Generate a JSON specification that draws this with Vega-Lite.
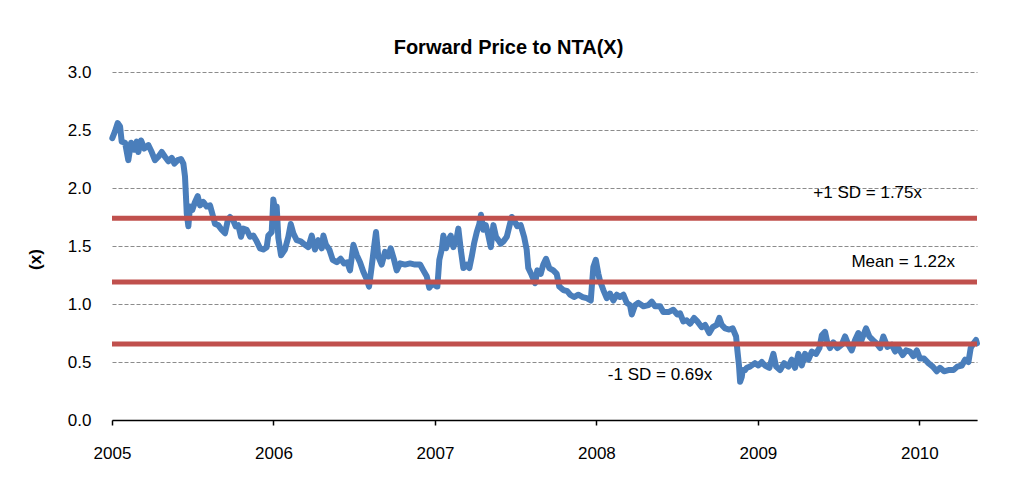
{
  "$schema": "https://vega.github.io/schema/vega-lite/v6.json",
  "width": 865,
  "height": 348,
  "autosize": "none",
  "padding": {"left": 112, "top": 72, "right": 38, "bottom": 68},
  "background": "white",
  "title": {
    "text": "Forward Price to NTA(X)",
    "font": "Liberation Sans",
    "fontSize": 20,
    "fontWeight": "bold",
    "color": "black",
    "anchor": "middle",
    "frame": "group",
    "baseline": "alphabetic",
    "dx": -36,
    "offset": -11
  },
  "config": {
    "view": {"stroke": null},
    "font": "Liberation Sans"
  },
  "datasets": {
    "series": [
      {"t": 2005.002, "v": 2.43}, {"t": 2005.019, "v": 2.49}, {"t": 2005.035, "v": 2.56}, {"t": 2005.050, "v": 2.53},
      {"t": 2005.060, "v": 2.40}, {"t": 2005.081, "v": 2.39}, {"t": 2005.101, "v": 2.24}, {"t": 2005.118, "v": 2.39},
      {"t": 2005.138, "v": 2.33}, {"t": 2005.153, "v": 2.40}, {"t": 2005.163, "v": 2.31}, {"t": 2005.180, "v": 2.41},
      {"t": 2005.200, "v": 2.34}, {"t": 2005.225, "v": 2.37}, {"t": 2005.246, "v": 2.31}, {"t": 2005.266, "v": 2.24},
      {"t": 2005.287, "v": 2.27}, {"t": 2005.308, "v": 2.31}, {"t": 2005.328, "v": 2.27}, {"t": 2005.349, "v": 2.23},
      {"t": 2005.370, "v": 2.26}, {"t": 2005.386, "v": 2.21}, {"t": 2005.407, "v": 2.24}, {"t": 2005.427, "v": 2.25},
      {"t": 2005.442, "v": 2.21}, {"t": 2005.452, "v": 2.10}, {"t": 2005.458, "v": 1.93}, {"t": 2005.463, "v": 1.78},
      {"t": 2005.473, "v": 1.67}, {"t": 2005.483, "v": 1.84}, {"t": 2005.497, "v": 1.81}, {"t": 2005.514, "v": 1.88},
      {"t": 2005.531, "v": 1.93}, {"t": 2005.545, "v": 1.85}, {"t": 2005.565, "v": 1.88}, {"t": 2005.587, "v": 1.84},
      {"t": 2005.607, "v": 1.85}, {"t": 2005.621, "v": 1.78}, {"t": 2005.638, "v": 1.69}, {"t": 2005.658, "v": 1.68},
      {"t": 2005.679, "v": 1.64}, {"t": 2005.700, "v": 1.61}, {"t": 2005.717, "v": 1.72}, {"t": 2005.731, "v": 1.75},
      {"t": 2005.751, "v": 1.72}, {"t": 2005.766, "v": 1.67}, {"t": 2005.782, "v": 1.68}, {"t": 2005.799, "v": 1.58},
      {"t": 2005.813, "v": 1.65}, {"t": 2005.834, "v": 1.64}, {"t": 2005.855, "v": 1.58}, {"t": 2005.875, "v": 1.59},
      {"t": 2005.896, "v": 1.54}, {"t": 2005.917, "v": 1.48}, {"t": 2005.937, "v": 1.47}, {"t": 2005.958, "v": 1.49},
      {"t": 2005.968, "v": 1.59}, {"t": 2005.989, "v": 1.62}, {"t": 2005.999, "v": 1.90}, {"t": 2006.010, "v": 1.81},
      {"t": 2006.020, "v": 1.84}, {"t": 2006.030, "v": 1.57}, {"t": 2006.047, "v": 1.42}, {"t": 2006.071, "v": 1.47},
      {"t": 2006.092, "v": 1.58}, {"t": 2006.107, "v": 1.69}, {"t": 2006.123, "v": 1.61}, {"t": 2006.144, "v": 1.55},
      {"t": 2006.169, "v": 1.54}, {"t": 2006.195, "v": 1.51}, {"t": 2006.216, "v": 1.49}, {"t": 2006.237, "v": 1.59},
      {"t": 2006.257, "v": 1.47}, {"t": 2006.278, "v": 1.55}, {"t": 2006.299, "v": 1.48}, {"t": 2006.309, "v": 1.59},
      {"t": 2006.325, "v": 1.51}, {"t": 2006.346, "v": 1.47}, {"t": 2006.367, "v": 1.38}, {"t": 2006.392, "v": 1.36},
      {"t": 2006.416, "v": 1.39}, {"t": 2006.437, "v": 1.35}, {"t": 2006.457, "v": 1.36}, {"t": 2006.474, "v": 1.29},
      {"t": 2006.495, "v": 1.51}, {"t": 2006.516, "v": 1.42}, {"t": 2006.536, "v": 1.36}, {"t": 2006.556, "v": 1.28},
      {"t": 2006.578, "v": 1.21}, {"t": 2006.592, "v": 1.15}, {"t": 2006.608, "v": 1.32}, {"t": 2006.623, "v": 1.49},
      {"t": 2006.635, "v": 1.62}, {"t": 2006.649, "v": 1.41}, {"t": 2006.670, "v": 1.34}, {"t": 2006.691, "v": 1.45},
      {"t": 2006.711, "v": 1.41}, {"t": 2006.726, "v": 1.48}, {"t": 2006.747, "v": 1.38}, {"t": 2006.763, "v": 1.29},
      {"t": 2006.784, "v": 1.35}, {"t": 2006.815, "v": 1.34}, {"t": 2006.846, "v": 1.35}, {"t": 2006.877, "v": 1.34},
      {"t": 2006.908, "v": 1.34}, {"t": 2006.928, "v": 1.29}, {"t": 2006.949, "v": 1.24}, {"t": 2006.965, "v": 1.14},
      {"t": 2006.986, "v": 1.18}, {"t": 2007.011, "v": 1.15}, {"t": 2007.015, "v": 1.15}, {"t": 2007.027, "v": 1.38},
      {"t": 2007.042, "v": 1.47}, {"t": 2007.052, "v": 1.59}, {"t": 2007.069, "v": 1.48}, {"t": 2007.083, "v": 1.55},
      {"t": 2007.098, "v": 1.59}, {"t": 2007.114, "v": 1.49}, {"t": 2007.135, "v": 1.57}, {"t": 2007.145, "v": 1.65},
      {"t": 2007.160, "v": 1.47}, {"t": 2007.176, "v": 1.31}, {"t": 2007.197, "v": 1.34}, {"t": 2007.213, "v": 1.31},
      {"t": 2007.228, "v": 1.41}, {"t": 2007.242, "v": 1.52}, {"t": 2007.259, "v": 1.62}, {"t": 2007.275, "v": 1.69},
      {"t": 2007.285, "v": 1.77}, {"t": 2007.300, "v": 1.64}, {"t": 2007.315, "v": 1.68}, {"t": 2007.331, "v": 1.59},
      {"t": 2007.346, "v": 1.49}, {"t": 2007.362, "v": 1.68}, {"t": 2007.378, "v": 1.58}, {"t": 2007.393, "v": 1.55},
      {"t": 2007.407, "v": 1.52}, {"t": 2007.424, "v": 1.54}, {"t": 2007.445, "v": 1.58}, {"t": 2007.461, "v": 1.67},
      {"t": 2007.476, "v": 1.75}, {"t": 2007.490, "v": 1.72}, {"t": 2007.510, "v": 1.67}, {"t": 2007.531, "v": 1.68},
      {"t": 2007.552, "v": 1.58}, {"t": 2007.568, "v": 1.47}, {"t": 2007.578, "v": 1.31}, {"t": 2007.599, "v": 1.25},
      {"t": 2007.620, "v": 1.18}, {"t": 2007.634, "v": 1.29}, {"t": 2007.655, "v": 1.26}, {"t": 2007.671, "v": 1.34},
      {"t": 2007.688, "v": 1.39}, {"t": 2007.708, "v": 1.31}, {"t": 2007.733, "v": 1.29}, {"t": 2007.754, "v": 1.26},
      {"t": 2007.770, "v": 1.15}, {"t": 2007.795, "v": 1.12}, {"t": 2007.820, "v": 1.11}, {"t": 2007.837, "v": 1.08},
      {"t": 2007.861, "v": 1.06}, {"t": 2007.888, "v": 1.08}, {"t": 2007.915, "v": 1.06}, {"t": 2007.940, "v": 1.05},
      {"t": 2007.965, "v": 1.03}, {"t": 2007.981, "v": 1.32}, {"t": 2007.996, "v": 1.38}, {"t": 2008.012, "v": 1.26},
      {"t": 2008.022, "v": 1.20}, {"t": 2008.043, "v": 1.12}, {"t": 2008.064, "v": 1.05}, {"t": 2008.084, "v": 1.09},
      {"t": 2008.105, "v": 1.03}, {"t": 2008.126, "v": 1.08}, {"t": 2008.146, "v": 1.06}, {"t": 2008.167, "v": 1.08},
      {"t": 2008.188, "v": 1.01}, {"t": 2008.208, "v": 0.99}, {"t": 2008.219, "v": 0.91}, {"t": 2008.239, "v": 0.99},
      {"t": 2008.260, "v": 1.01}, {"t": 2008.291, "v": 0.98}, {"t": 2008.322, "v": 0.99}, {"t": 2008.343, "v": 1.02},
      {"t": 2008.363, "v": 0.98}, {"t": 2008.394, "v": 0.98}, {"t": 2008.415, "v": 0.93}, {"t": 2008.446, "v": 0.93},
      {"t": 2008.476, "v": 0.95}, {"t": 2008.501, "v": 0.91}, {"t": 2008.518, "v": 0.92}, {"t": 2008.538, "v": 0.85},
      {"t": 2008.559, "v": 0.86}, {"t": 2008.580, "v": 0.83}, {"t": 2008.605, "v": 0.88}, {"t": 2008.625, "v": 0.85},
      {"t": 2008.652, "v": 0.80}, {"t": 2008.673, "v": 0.82}, {"t": 2008.699, "v": 0.75}, {"t": 2008.720, "v": 0.80},
      {"t": 2008.745, "v": 0.82}, {"t": 2008.761, "v": 0.88}, {"t": 2008.776, "v": 0.82}, {"t": 2008.797, "v": 0.79},
      {"t": 2008.823, "v": 0.78}, {"t": 2008.844, "v": 0.79}, {"t": 2008.865, "v": 0.72}, {"t": 2008.873, "v": 0.60},
      {"t": 2008.883, "v": 0.47}, {"t": 2008.890, "v": 0.33}, {"t": 2008.900, "v": 0.37}, {"t": 2008.906, "v": 0.43},
      {"t": 2008.920, "v": 0.43}, {"t": 2008.931, "v": 0.45}, {"t": 2008.951, "v": 0.46}, {"t": 2008.982, "v": 0.49},
      {"t": 2009.003, "v": 0.47}, {"t": 2009.024, "v": 0.50}, {"t": 2009.044, "v": 0.47}, {"t": 2009.071, "v": 0.45},
      {"t": 2009.096, "v": 0.57}, {"t": 2009.113, "v": 0.46}, {"t": 2009.137, "v": 0.43}, {"t": 2009.162, "v": 0.49},
      {"t": 2009.189, "v": 0.46}, {"t": 2009.210, "v": 0.52}, {"t": 2009.230, "v": 0.45}, {"t": 2009.251, "v": 0.57},
      {"t": 2009.272, "v": 0.47}, {"t": 2009.292, "v": 0.57}, {"t": 2009.313, "v": 0.52}, {"t": 2009.334, "v": 0.59},
      {"t": 2009.360, "v": 0.57}, {"t": 2009.381, "v": 0.62}, {"t": 2009.396, "v": 0.73}, {"t": 2009.416, "v": 0.76},
      {"t": 2009.430, "v": 0.67}, {"t": 2009.447, "v": 0.62}, {"t": 2009.467, "v": 0.67}, {"t": 2009.492, "v": 0.62},
      {"t": 2009.519, "v": 0.65}, {"t": 2009.540, "v": 0.72}, {"t": 2009.560, "v": 0.65}, {"t": 2009.581, "v": 0.60},
      {"t": 2009.602, "v": 0.69}, {"t": 2009.622, "v": 0.75}, {"t": 2009.637, "v": 0.67}, {"t": 2009.653, "v": 0.73},
      {"t": 2009.670, "v": 0.79}, {"t": 2009.690, "v": 0.72}, {"t": 2009.711, "v": 0.69}, {"t": 2009.736, "v": 0.66},
      {"t": 2009.757, "v": 0.62}, {"t": 2009.777, "v": 0.72}, {"t": 2009.802, "v": 0.63}, {"t": 2009.829, "v": 0.65},
      {"t": 2009.850, "v": 0.59}, {"t": 2009.870, "v": 0.62}, {"t": 2009.897, "v": 0.56}, {"t": 2009.918, "v": 0.60},
      {"t": 2009.942, "v": 0.59}, {"t": 2009.963, "v": 0.55}, {"t": 2009.984, "v": 0.60}, {"t": 2010.004, "v": 0.53},
      {"t": 2010.029, "v": 0.53}, {"t": 2010.056, "v": 0.49}, {"t": 2010.083, "v": 0.46}, {"t": 2010.108, "v": 0.42},
      {"t": 2010.128, "v": 0.45}, {"t": 2010.153, "v": 0.42}, {"t": 2010.180, "v": 0.43}, {"t": 2010.211, "v": 0.43},
      {"t": 2010.235, "v": 0.46}, {"t": 2010.263, "v": 0.47}, {"t": 2010.283, "v": 0.52}, {"t": 2010.304, "v": 0.50},
      {"t": 2010.318, "v": 0.62}, {"t": 2010.335, "v": 0.66}, {"t": 2010.351, "v": 0.69}, {"t": 2010.357, "v": 0.66}
    ],
    "bands": [
      {"name": "+1 SD", "v": 1.74},
      {"name": "Mean", "v": 1.19},
      {"name": "-1 SD", "v": 0.655}
    ],
    "labels": [
      {"t": 2009.68, "v": 1.957, "label": "+1 SD = 1.75x"},
      {"t": 2009.90, "v": 1.362, "label": "Mean = 1.22x"},
      {"t": 2008.394, "v": 0.388, "label": "-1 SD = 0.69x"}
    ]
  },
  "encoding": {
    "x": {
      "field": "t",
      "type": "quantitative",
      "scale": {"domain": [2005, 2010.357], "nice": false, "zero": false},
      "axis": {
        "title": null,
        "values": [2005, 2006, 2007, 2008, 2009, 2010],
        "format": "d",
        "grid": false,
        "domainColor": "black",
        "domainWidth": 1.5,
        "tickColor": "black",
        "tickSize": 5,
        "tickWidth": 1.5,
        "labelFontSize": 17,
        "labelColor": "black",
        "labelPadding": 20,
        "labelFlush": false
      }
    },
    "y": {
      "field": "v",
      "type": "quantitative",
      "scale": {"domain": [0, 3], "nice": false},
      "axis": {
        "title": "(x)",
        "titleFontSize": 17,
        "titleFontWeight": "bold",
        "titleColor": "black",
        "titleAngle": -90,
        "titleBaseline": "middle",
        "titleAlign": "center",
        "titleX": -77,
        "titleY": 187,
        "values": [0, 0.5, 1, 1.5, 2, 2.5, 3],
        "format": ".1f",
        "grid": true,
        "gridColor": "#8c8c8c",
        "gridDash": [4, 2],
        "gridWidth": 1.2,
        "domain": false,
        "ticks": false,
        "labelFontSize": 17,
        "labelColor": "black",
        "labelPadding": 21
      }
    }
  },
  "layer": [
    {
      "data": {"name": "series"},
      "mark": {"type": "line", "color": "#4A7EBB", "strokeWidth": 6, "strokeJoin": "round", "strokeCap": "round"}
    },
    {
      "data": {"name": "bands"},
      "mark": {"type": "rule", "color": "#C0504D", "strokeWidth": 5},
      "encoding": {"x": null}
    },
    {
      "data": {"name": "labels"},
      "mark": {"type": "text", "fontSize": 17, "color": "black", "align": "center", "baseline": "middle"},
      "encoding": {"text": {"field": "label", "type": "nominal"}}
    }
  ]
}
